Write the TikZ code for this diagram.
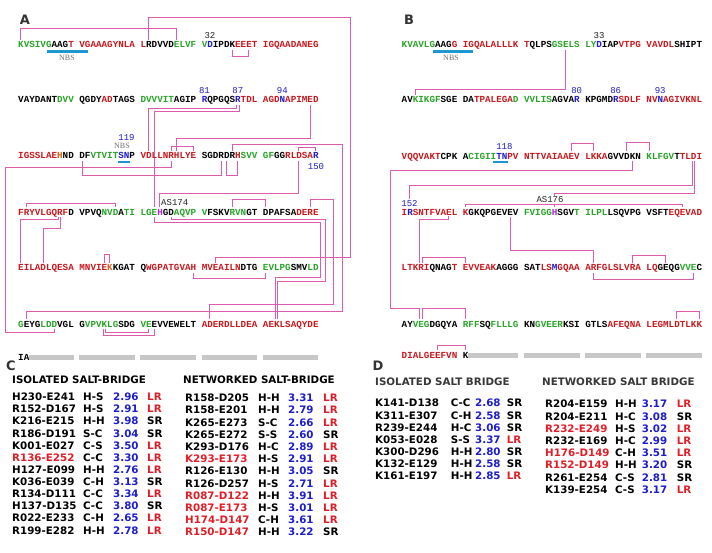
\documentclass[tikz,border=0pt]{standalone}
\usepackage{fontspec}
\newfontfamily\seqfont{Liberation Mono}
\newfontfamily\tabfont{DejaVu Sans}
\newfontfamily\nbsfont{Liberation Serif}
\definecolor{seqgreen}{RGB}{40,165,40}
\definecolor{seqred}{RGB}{200,25,30}
\definecolor{seqblue}{RGB}{30,30,205}
\definecolor{seqmag}{RGB}{175,40,210}
\definecolor{seqorange}{RGB}{215,95,20}
\definecolor{bridgepink}{RGB}{222,92,175}
\definecolor{nbsblue}{RGB}{30,150,210}
\definecolor{lrred}{RGB}{225,30,40}
\colorlet{LR}{lrred}
\colorlet{SR}{black}
\newcommand{\Gs}[1]{\textcolor{seqgreen}{#1}}
\newcommand{\Rs}[1]{\textcolor{seqred}{#1}}
\newcommand{\Bs}[1]{\textcolor{seqblue}{#1}}
\newcommand{\Ms}[1]{\textcolor{seqmag}{#1}}
\newcommand{\Os}[1]{\textcolor{seqorange}{#1}}
\tikzset{
  seqrow/.style={anchor=base west, inner sep=0pt, font=\seqfont\bfseries\fontsize{9.27}{11}\selectfont},
  seqnum/.style={inner sep=0pt, text=black!85, font=\seqfont\fontsize{9}{10}\selectfont},
  nbsbar/.style={draw=nbsblue, line width=2.8pt},
  nbstext/.style={inner sep=0pt, text=black!55, font=\nbsfont\fontsize{8}{9}\selectfont},
  bridge/.style={draw=bridgepink, line width=0.9pt},
  gapbar/.style={fill=black!22},
  panellabel/.style={inner sep=0pt, text=black!80, font=\tabfont\bfseries\fontsize{13}{15}\selectfont},
  tabhead/.style={anchor=west, inner sep=0pt, text height=7.5pt, text depth=0pt, font=\tabfont\bfseries\fontsize{10.3}{12}\selectfont},
  tabcell/.style={anchor=west, inner sep=0pt, text height=7.5pt, text depth=0pt, font=\tabfont\bfseries\fontsize{10.3}{12}\selectfont},
}
\frenchspacing

\begin{document}
\begin{tikzpicture}[x=1pt,y=-1pt]
\useasboundingbox (0,0) rectangle (712,553);
\fill[white] (0,0) rectangle (712,553);

% residue end points, panel A
\coordinate (aK1) at (20.8,40);
\coordinate (aE27) at (176.6,40);
\coordinate (aR22) at (148.7,40);
\coordinate (aK36) at (232.2,50);
\coordinate (aE39) at (248.9,50);
\coordinate (aE99) at (310.1,105);
\coordinate (aR87) at (237.8,105);
\coordinate (aD122) at (148.7,151);
\coordinate (aH127) at (176.6,151);
\coordinate (aR126t) at (171.0,151);
\coordinate (aE130) at (193.3,151);
\coordinate (aR136) at (232.2,151);
\coordinate (aD147t) at (298.9,151);
\coordinate (aR150) at (315.6,151);
\coordinate (aR126b) at (171.0,161);
\coordinate (aD111) at (82.0,161);
\coordinate (aR134) at (221.1,161);
\coordinate (aD135) at (226.6,161);
\coordinate (aH137) at (237.8,161);
\coordinate (aD147b) at (298.9,161);
\coordinate (aR152) at (26.4,207.5);
\coordinate (aD167) at (115.4,207.5);
\coordinate (aE173t) at (154.3,207.5);
\coordinate (aH174) at (159.9,207.5);
\coordinate (aR186) at (232.2,207.5);
\coordinate (aD191) at (265.6,207.5);
\coordinate (aR199) at (310.1,207.5);
\coordinate (aR158) at (59.7,217.5);
\coordinate (aE173b) at (154.3,217.5);
\coordinate (aD176) at (171.0,217.5);
\coordinate (aE201) at (20.8,263);
\coordinate (aD205) at (43.1,263);
\coordinate (aE215) at (104.2,263);
\coordinate (aK216) at (109.8,263);
\coordinate (aE233) at (215.5,263);
\coordinate (aH230) at (193.3,273);
\coordinate (aE241) at (265.6,273);
\coordinate (aE252) at (26.4,319);
\coordinate (aE282) at (209.9,319);
\coordinate (aK293) at (276.7,319);
\coordinate (aK265) at (104.2,329);
\coordinate (aE272) at (148.7,329);
\coordinate (aE273) at (154.3,329);
\coordinate (aD257) at (54.2,329);

% residue end points, panel B
\coordinate (bE28) at (565.6,50);
\coordinate (bK53) at (415.4,95);
\coordinate (bE129) at (571.2,151.5);
\coordinate (bK132) at (593.4,151.5);
\coordinate (bD138) at (626.8,151.5);
\coordinate (bK141) at (649.1,151.5);
\coordinate (bK139) at (632.4,161.5);
\coordinate (bD149) at (693.6,161.5);
\coordinate (bR152) at (409.9,199);
\coordinate (bK161) at (465.5,207.5);
\coordinate (bH176) at (554.5,207.5);
\coordinate (bE197) at (682.4,207.5);
\coordinate (bE159) at (448.8,216.5);
\coordinate (bE169) at (510.0,217.5);
\coordinate (bR204) at (421.0,263);
\coordinate (bE211) at (465.5,263);
\coordinate (bR232t) at (593.4,263);
\coordinate (bR239) at (632.4,263);
\coordinate (bE244) at (665.8,263);
\coordinate (bR232b) at (593.4,273);
\coordinate (bE249) at (693.6,273);
\coordinate (bE254) at (421.0,319);
\coordinate (bR261) at (465.5,319);
\coordinate (bD296) at (676.9,319);
\coordinate (bK300) at (699.1,319);
\coordinate (bE307) at (437.7,350);
\coordinate (bK311) at (465.5,350);

% salt bridges, panel A
\draw[bridge] (aK1) -- ++(0,-12) -| (aE27);
\draw[bridge] (aR22) |- (350,17) -- (350,257) -| (aE233);
\draw[bridge] (aK36) -- ++(0,6) -| (aE39);
\draw[bridge] ([xshift=-1.2pt]aR87) -- ++(0,3) -| (aD122);
\draw[bridge] ([xshift=1.2pt]aR87) -- ++(0,6) -| (aE173t);
\draw[bridge] (aE99) -- ++(0,33) -| (aH127);
\draw[bridge] (aR126t) -- ++(0,-5) -| (aE130);
\draw[bridge] (aR126b) |- (5,167) -- (5,332) -| (aD257);
\draw[bridge] (aD111) -- ++(0,14) -| (aR134);
\draw[bridge] (aD135) -- ++(0,14) -| (aH137);
\draw[bridge] (aR136) |- (342,144) -- (342,311) -| (aE252);
\draw[bridge] (aR150) -- ++(0,-3.5) -| (aD147t);
\draw[bridge] (aD147b) -- ++(0,32) -| (aH174);
\draw[bridge] (aR152) -- ++(0,-4.5) -| (aD167);
\draw[bridge] ([xshift=1.2pt]aR158) -- ++(0,10.5) -| (aD205);
\draw[bridge] ([xshift=-1.2pt]aR158) -- ++(0,1.5) -| (aE201);
\draw[bridge] (aR186) -- ++(0,-8.5) -| (aD191);
\draw[bridge] (aR199) |- (333,199) -- (333,304) -| (aE282);
\draw[bridge] (aD176) |- (325,219) -- (325,281) -| ([xshift=1.2pt]aK293);
\draw[bridge] (aE173b) |- (320,222) -- (320,277) -| ([xshift=-1.2pt]aK293);
\draw[bridge] (aK216) -- ++(0,-9) -| (aE215);
\draw[bridge] (aH230) -- ++(0,5) -| (aE241);
\draw[bridge] ([xshift=-1.2pt]aK265) -- ++(0,6) -| (aE273);
\draw[bridge] ([xshift=1.2pt]aK265) -- ++(0,3) -| (aE272);

% salt bridges, panel B
\draw[bridge] (bE28) -- ++(0,39) -| (bK53);
\draw[bridge] (bK132) -- ++(0,-8.5) -| (bE129);
\draw[bridge] (bD138) -- ++(0,-9.5) -| (bK141);
\draw[bridge] (bK139) |- (390,170) -- (390,308) -| ([xshift=-1.2pt]bE254);
\draw[bridge] ([xshift=-1.2pt]bD149) -- ++(0,23.5) -| (bR152);
\draw[bridge] ([xshift=1.2pt]bD149) -- ++(0,31.5) -| (bH176);
\draw[bridge] (bK161) -- ++(0,-3) -| (bE197);
\draw[bridge] (bE159) -- ++(0,2.5) -| ([xshift=-1.2pt]bR204);
\draw[bridge] ([xshift=1.2pt]bR204) -- ++(0,-6) -| (bE211);
\draw[bridge] (bE169) -- ++(0,32.5) -| (bR232t);
\draw[bridge] (bR232b) -- ++(0,6) -| (bE249);
\draw[bridge] (bR239) -- ++(0,-8) -| (bE244);
\draw[bridge] ([xshift=1.2pt]bE254) -- ++(0,-11) -| (bR261);
\draw[bridge] (bK300) -- ++(0,-8) -| (bD296);
\draw[bridge] (bK311) -- ++(0,-5) -| (bE307);

% sequences
\node[seqrow] (rowA1) at (18,48) {\Gs{KVSIVG}AAG\Rs{T} \Rs{VGAAAGYNLA} \Rs{L}RDVVD\Gs{ELVF} \Gs{V}\Bs{D}IPDK\Rs{EEET} \Rs{IGQAADANEG}};
\node[seqrow] (rowA2) at (18,103) {VAYDANT\Gs{DVV} QGDY\Rs{AD}TAGS \Gs{DVVVIT}AGIP \Bs{R}QPGQS\Bs{R}\Rs{TDL} \Rs{AGD}\Bs{N}\Rs{APIMED}};
\node[seqrow] (rowA3) at (18,159) {\Rs{IGSSLAE}\Os{H}ND DF\Gs{VTVIT}\Bs{SN}P \Rs{VDLLNRHLYE} SGDRDR\Rs{H}\Gs{SVV} \Gs{GF}GG\Rs{RLDSA}\Bs{R}};
\node[seqrow] (rowA4) at (18,215.5) {\Rs{FRYVLGQRF}D VPVQ\Gs{NVD}A\Gs{TI} \Gs{LGE}\Ms{H}GD\Gs{AQVP} \Gs{V}FSKV\Gs{RVN}GT DPAFSA\Rs{DERE}};
\node[seqrow] (rowA5) at (18,271) {\Rs{EILADLQESA} \Rs{MNVIE}\Os{K}KGAT Q\Rs{WGPATGVAH} \Rs{MVEAILN}DTG \Gs{EVLPG}SMV\Gs{LD}};
\node[seqrow] (rowA6) at (18,327) {\Gs{G}EYG\Gs{LDD}VGL G\Gs{VPVKLG}SDG \Gs{VE}EVVEWELT \Rs{ADERDLLDEA} \Rs{AEKLSAQYDE}};
\node[seqrow] (rowA7) at (18,360) {IA};
\foreach \xa/\xb in {29.1/73.6, 79.2/134.8, 140.4/196.0, 201.6/257.2, 262.8/318.4}
  \fill[gapbar] (\xa,354.5) rectangle (\xb,359.5);

\node[seqrow] (rowB1) at (401.5,48) {\Gs{KVAVLG}AAG\Rs{G} \Rs{IGQALALLLK} \Rs{T}QLPS\Gs{GSELS} \Gs{LY}\Bs{D}IAP\Rs{VTPG} \Rs{VAVDL}SHIPT};
\node[seqrow] (rowB2) at (401.5,103) {AV\Gs{KIKGF}SGE DA\Rs{TPALEGA}\Gs{D} \Gs{VVLIS}AGVA\Bs{R} KPGMD\Bs{R}\Rs{SDLF} \Rs{NV}\Bs{N}\Rs{AGIVKNL}};
\node[seqrow] (rowB3) at (401.5,159.5) {\Rs{VQQVAKT}CPK A\Gs{CIGII}\Bs{TN}\Rs{PV} \Rs{NTTVAIAAEV} \Rs{LKKA}GVVDKN \Gs{KLFGV}T\Rs{TLDI}};
\node[seqrow] (rowB4) at (401.5,215.5) {\Rs{I}\Bs{R}\Rs{SNTFVAEL} \Rs{K}GKQPGEVEV \Gs{FVIGG}\Ms{H}SGV\Gs{T} \Gs{ILPL}LSQVPG VSFT\Rs{EQEVAD}};
\node[seqrow] (rowB5) at (401.5,271) {\Rs{LTKRI}QNAG\Rs{T} \Rs{EVVEAK}AGGG SAT\Rs{LS}\Bs{M}\Rs{GQAA} \Rs{ARFGLSLVRA} \Rs{LQ}GEQG\Gs{VVE}C};
\node[seqrow] (rowB6) at (401.5,327) {AY\Gs{VEG}DGQYA \Gs{RFF}SQ\Gs{FLLLG} KN\Gs{GVEER}KSI GTLS\Rs{AFEQNA} \Rs{LEGMLDTLKK}};
\node[seqrow] (rowB7) at (401.5,358) {\Rs{DIALGEEFVN} K};
\foreach \xa/\xb in {468.3/518.3, 523.9/579.5, 585.1/640.7, 646.3/701.9}
  \fill[gapbar] (\xa,352.5) rectangle (\xb,357.5);

% NBS marks and residue numbers
\draw[nbsbar] (47,51.5) -- (88,51.5);
\node[nbstext] (nbsA1) at (67,57.5) {NBS};
\draw[nbsbar] (117.5,162) -- (129.5,162);
\node[nbstext] (nbsA3) at (122,146) {NBS};
\draw[nbsbar] (433,51.5) -- (473,51.5);
\node[nbstext] (nbsB1) at (451,57.5) {NBS};
\draw[nbsbar] (493,162) -- (508,162);

\node[seqnum] (numA32) at (209.9,35.5) {32};
\node[seqnum, text=seqblue] (numA81) at (204.4,90.5) {81};
\node[seqnum, text=seqblue] (numA87) at (237.8,90.5) {87};
\node[seqnum, text=seqblue] (numA94) at (282.3,90.5) {94};
\node[seqnum, text=seqblue] (numA119) at (126.5,137.5) {119};
\node[seqnum, text=seqblue] (numA150) at (316,167) {150};
\node[seqnum, anchor=west] (asA) at (161,202.5) {AS174};
\node[seqnum] (numB33) at (599.0,35.5) {33};
\node[seqnum, text=seqblue] (numB80) at (576.7,90.5) {80};
\node[seqnum, text=seqblue] (numB86) at (615.7,90.5) {86};
\node[seqnum, text=seqblue] (numB93) at (660.2,90.5) {93};
\node[seqnum, text=seqblue] (numB118) at (504.4,147) {118};
\node[seqnum, text=seqblue] (numB152) at (409.5,204) {152};
\node[seqnum, fill=white, inner sep=0.6pt] (asB) at (550,200) {AS176};

% panel letters
\node[panellabel] (labA) at (25,20) {A};
\node[panellabel] (labB) at (409,20) {B};
\node[panellabel] (labC) at (11,366) {C};
\node[panellabel] (labD) at (378,366) {D};

% tables
\node[tabhead] (hdCiso) at (12,380) {ISOLATED SALT-BRIDGE};
\node[tabhead] (hdCnet) at (183,380) {NETWORKED SALT-BRIDGE};
\node[tabhead, text=black!78] (hdDiso) at (375,382) {ISOLATED SALT BRIDGE};
\node[tabhead, text=black!78] (hdDnet) at (542,382) {NETWORKED SALT BRIDGE};

\foreach \nc/\nm/\tp/\vl/\rg [count=\k from 0] in {
  black/H230-E241/H-S/2.96/LR, black/R152-D167/H-S/2.91/LR,
  black/K216-E215/H-H/3.98/SR, black/R186-D191/S-C/3.04/SR,
  black/K001-E027/C-S/3.50/LR, lrred/R136-E252/C-C/3.30/LR,
  black/H127-E099/H-H/2.76/LR, black/K036-E039/C-H/3.13/SR,
  black/R134-D111/C-C/3.34/LR, black/H137-D135/C-C/3.80/SR,
  black/R022-E233/C-H/2.65/LR, black/R199-E282/H-H/2.78/LR} {
  \node[tabcell, text=\nc] (ciN\k) at (12,{397+12.12*\k}) {\nm};
  \node[tabcell] (ciT\k) at (83,{397+12.12*\k}) {\tp};
  \node[tabcell, text=seqblue] (ciV\k) at (113,{397+12.12*\k}) {\vl};
  \node[tabcell, text=\rg] (ciR\k) at (147,{397+12.12*\k}) {\rg};
}
\foreach \nc/\nm/\tp/\vl/\rg [count=\k from 0] in {
  black/R158-D205/H-H/3.31/LR, black/R158-E201/H-H/2.79/LR,
  black/K265-E273/S-C/2.66/LR, black/K265-E272/S-S/2.60/SR,
  black/K293-D176/H-C/2.89/LR, lrred/K293-E173/H-S/2.91/LR,
  black/R126-E130/H-H/3.05/SR, black/R126-D257/H-S/2.71/LR,
  lrred/R087-D122/H-H/3.91/LR, lrred/R087-E173/H-S/3.01/LR,
  lrred/H174-D147/C-H/3.61/LR, lrred/R150-D147/H-H/3.22/SR} {
  \node[tabcell, text=\nc] (cnN\k) at (185,{398+12.2*\k}) {\nm};
  \node[tabcell] (cnT\k) at (258,{398+12.2*\k}) {\tp};
  \node[tabcell, text=seqblue] (cnV\k) at (288,{398+12.2*\k}) {\vl};
  \node[tabcell, text=\rg] (cnR\k) at (323,{398+12.2*\k}) {\rg};
}
\foreach \nc/\nm/\tp/\vl/\rg [count=\k from 0] in {
  black/K141-D138/C-C/2.68/SR, black/K311-E307/C-H/2.58/SR,
  black/R239-E244/H-C/3.06/SR, black/K053-E028/S-S/3.37/LR,
  black/K300-D296/H-H/2.80/SR, black/K132-E129/H-H/2.58/SR,
  black/K161-E197/H-H/2.85/LR} {
  \node[tabcell, text=\nc] (diN\k) at (375,{403.2+12.1*\k}) {\nm};
  \node[tabcell] (diT\k) at (450.7,{403.2+12.1*\k}) {\tp};
  \node[tabcell, text=seqblue] (diV\k) at (475,{403.2+12.1*\k}) {\vl};
  \node[tabcell, text=\rg] (diR\k) at (506.7,{403.2+12.1*\k}) {\rg};
}
\foreach \nc/\nm/\tp/\vl/\rg [count=\k from 0] in {
  black/R204-E159/H-H/3.17/LR, black/R204-E211/H-C/3.08/SR,
  lrred/R232-E249/H-S/3.02/LR, black/R232-E169/H-C/2.99/LR,
  lrred/H176-D149/C-H/3.51/LR, lrred/R152-D149/H-H/3.20/SR,
  black/R261-E254/C-S/2.81/SR, black/K139-E254/C-S/3.17/LR} {
  \node[tabcell, text=\nc] (dnN\k) at (545,{404.1+12.2*\k}) {\nm};
  \node[tabcell] (dnT\k) at (615,{404.1+12.2*\k}) {\tp};
  \node[tabcell, text=seqblue] (dnV\k) at (641.7,{404.1+12.2*\k}) {\vl};
  \node[tabcell, text=\rg] (dnR\k) at (676.7,{404.1+12.2*\k}) {\rg};
}
\end{tikzpicture}
\end{document}
